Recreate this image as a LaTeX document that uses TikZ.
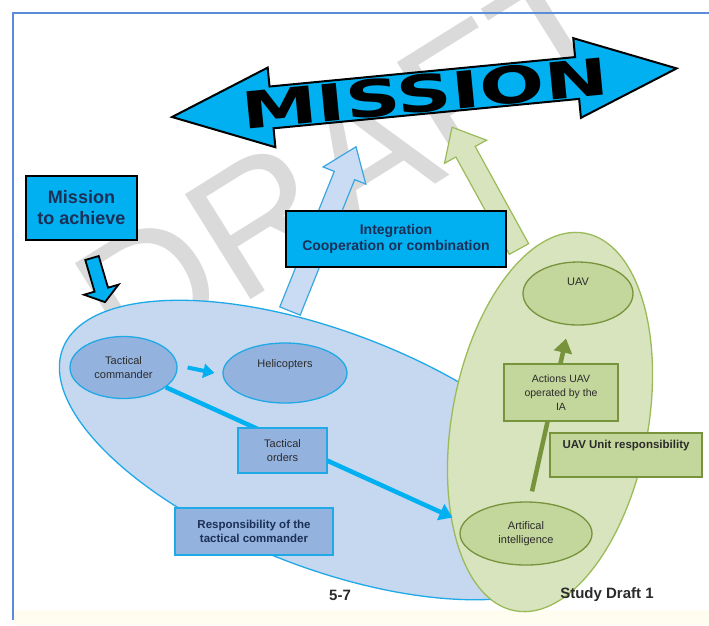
\documentclass[tikz,border=0pt]{standalone}
\usepackage{fontspec}
\setmainfont{Liberation Sans}
\newfontfamily\heavyfont{DejaVu Sans}
\usepackage{graphicx}
\usepackage{tikz}
\usetikzlibrary{arrows.meta, shapes.geometric}
\definecolor{missionblue}{HTML}{00B0F0}
\definecolor{navytext}{HTML}{1B2F57}
\definecolor{inktext}{HTML}{2B2B2B}
\definecolor{zonefill}{HTML}{C6D7F0}
\definecolor{zoneline}{HTML}{1FA9E6}
\definecolor{partfill}{HTML}{93B2DD}
\definecolor{liftfill}{HTML}{C9DCF3}
\definecolor{liftline}{HTML}{3AA6E0}
\definecolor{uavfill}{HTML}{D7E4BD}
\definecolor{uavline}{HTML}{9BBB59}
\definecolor{uavpart}{HTML}{C3D69B}
\definecolor{olive}{HTML}{77933C}
\definecolor{frameblue}{HTML}{5B8BD9}
\definecolor{wmgray}{HTML}{DADADA}
\definecolor{paper}{HTML}{FFFDF0}

\begin{document}
\begin{tikzpicture}[x=1pt, y=-1pt,
  goal/.style={draw=black, line width=2.5pt, fill=missionblue, text=navytext, align=center, inner sep=0pt},
  zone/.style={ellipse, line width=1.3pt, inner sep=0pt},
  part/.style={ellipse, line width=1.3pt, inner sep=0pt, align=center, text=inktext, font=\fontsize{11}{14}\selectfont},
  tag/.style={rectangle, line width=1.6pt, inner sep=0pt, align=center, text=inktext, font=\fontsize{11}{14}\selectfont},
  block/.style={line width=1.2pt, line join=miter},
  push/.style={line width=4.5pt, draw=missionblue, -{Triangle[length=13pt, width=17pt]}},
  watermark/.style={text=wmgray, font=\fontsize{180}{180}\selectfont, rotate=32, inner sep=0pt},
  footer/.style={text=inktext, font=\fontsize{15}{15}\selectfont\bfseries, inner sep=0pt},
]
  % page, watermark and frame
  \useasboundingbox (0,0) rectangle (709,625);
  \fill[white] (0,0) rectangle (709,625);
  \fill[paper] (14,610) rectangle (709,625);
  \begin{scope}
    \clip (0,0) rectangle (709,625);
    \node[watermark] (draftmark) at (350,165) {DRAFT};
  \end{scope}
  \draw[frameblue, line width=2.5pt] (709,13) -- (13,13) -- (13,620);

  % the mission arrow
  \begin{scope}[shift={(172,117)}, rotate=5.5]
    \filldraw[block, fill=missionblue, draw=black, line width=2pt] (0,0) -- (100,-40) -- (100,-21) -- (407,-21) -- (407,-40) -- (507,0)
      -- (407,40) -- (407,21) -- (100,21) -- (100,40) -- cycle;
    \node[transform shape, inner sep=0pt, font=\heavyfont\fontsize{51}{51}\selectfont\bfseries] (missionword) at (254,1) {\scalebox{1.5}[1]{MISSION}};
  \end{scope}

  % arrows lifting up to the mission
  \begin{scope}[shift={(290,311)}, rotate=68.1]
    \filldraw[block, fill=liftfill, draw=liftline] (0,-11) -- (146,-11) -- (146,-23) -- (177,0) -- (146,23) -- (146,11) -- (0,11) -- cycle;
  \end{scope}
  \begin{scope}[shift={(519,249)}, rotate=118.8]
    \filldraw[block, fill=uavfill, draw=uavline] (0,-11) -- (111,-11) -- (111,-24) -- (139,0) -- (111,24) -- (111,11) -- (0,11) -- cycle;
  \end{scope}

  \node[goal, minimum width=111pt, minimum height=64pt, font=\fontsize{18}{21}\selectfont\bfseries] (goalbox) at (81.5,208) {Mission\\to achieve};
  \begin{scope}[shift={(92,258)}, rotate=-73.6]
    \filldraw[block, fill=missionblue, draw=black, line width=1.8pt] (0,-7) -- (33,-7) -- (33,-18) -- (46,0) -- (33,18) -- (33,7) -- (0,7) -- cycle;
  \end{scope}
  \node[goal, minimum width=220pt, minimum height=56pt, font=\fontsize{14}{16}\selectfont\bfseries] (integration) at (396,239) {Integration\\Cooperation or combination};

  % the two areas of responsibility
  \node[zone, fill=zonefill, draw=zoneline, minimum width=566pt, minimum height=236pt, rotate=-21] (tczone) at (327,450) {};
  \node[zone, fill=uavfill, draw=uavline, minimum width=196pt, minimum height=384pt, rotate=-10.5] (uavzone) at (550,422) {};

  \node[part, fill=partfill, draw=zoneline, minimum width=107pt, minimum height=62pt] (tc) at (123.5,367.5) {Tactical\\commander};
  \node[part, fill=partfill, draw=zoneline, minimum width=124pt, minimum height=60pt, text depth=18pt] (heli) at (285,373) {Helicopters};
  \draw[push, line width=4pt, -{Triangle[length=11pt, width=14pt]}] ([xshift=10pt]tc.east) -- ([xshift=-8pt]heli.west);

  \node[part, fill=uavpart, draw=olive, minimum width=110pt, minimum height=63pt, text depth=24pt] (uav) at (578,293.5) {UAV};
  \node[part, fill=uavpart, draw=olive, minimum width=132pt, minimum height=63pt] (ai) at (526,533.5) {Artifical\\intelligence};
  \draw[push, draw=olive, -{Triangle[length=14pt, width=18pt]}] ([shift={(6,-10)}]ai.north) -- ([shift={(-12,13)}]uav.south);
  \node[tag, fill=uavpart, draw=olive, minimum width=114pt, minimum height=57pt, font=\fontsize{10.5}{14}\selectfont] (actions) at (561,392.5) {Actions UAV\\operated by the\\IA};
  \node[tag, fill=uavpart, draw=olive, minimum width=152pt, minimum height=44pt, text depth=22pt, font=\fontsize{11.5}{14}\selectfont\bfseries] (uavunit) at (626,455) {UAV Unit responsibility};

  \draw[push, shorten >=12pt] (tc.-25) -- (ai.170);
  \node[tag, fill=partfill, draw=zoneline, minimum width=89pt, minimum height=45pt] (tacorders) at (282.5,450.5) {Tactical\\orders};
  \node[tag, fill=partfill, draw=zoneline, minimum width=158pt, minimum height=47pt, text=navytext, font=\fontsize{11.5}{14}\selectfont\bfseries] (tcresp) at (254,531.5) {Responsibility of the\\tactical commander};

  \node[footer] (pagenum) at (340,595) {5-7};
  \node[footer] (draftlabel) at (607,595) {Study Draft 1};
\end{tikzpicture}
\end{document}
